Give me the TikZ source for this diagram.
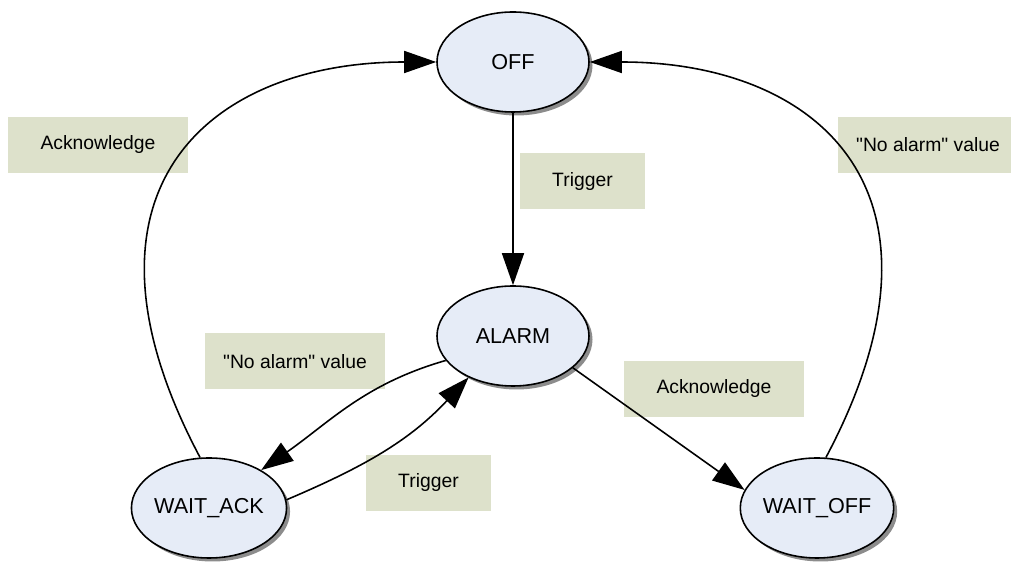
\documentclass[tikz,border=0pt]{standalone}
\usepackage{fontspec}
\setmainfont{Liberation Sans}
\usetikzlibrary{shapes.geometric,shadows,arrows.meta}
\definecolor{statefill}{RGB}{230,236,247}
\definecolor{labelfill}{RGB}{221,225,203}
\definecolor{shadowgray}{RGB}{140,140,140}
\tikzset{
  state/.style={ellipse,draw,line width=0.9pt,fill=statefill,
    minimum width=3.04cm,minimum height=2cm,inner sep=0pt,
    font=\fontsize{12.3}{14}\selectfont,
    drop shadow={shadow xshift=0.07cm,shadow yshift=-0.07cm,fill=shadowgray,opacity=1}},
  lbl/.style={rectangle,fill=labelfill,minimum height=1.12cm,inner sep=0pt,
    font=\fontsize{11}{13}\selectfont},
  trans/.style={line width=0.9pt,-{Triangle[length=6.4mm,width=4.4mm]}}
}
\begin{document}
\begin{tikzpicture}
        % 画面の範囲
        \clip (0,0) rectangle (20.22,11.26);
        % 状態
        \node[state] (OFF) at (10.26,10.02) {OFF};
        \node[state] (ALARM) at (10.26,4.54) {ALARM};
        \node[state] (WAITACK) at (4.18,1.10) {WAIT\_ACK};
        \node[state] (WAITOFF) at (16.34,1.10) {WAIT\_OFF};
        % 遷移のラベル
        \node[lbl,minimum width=3.6cm] (ackL) at (1.96,8.36) {Acknowledge};
        \node[lbl,minimum width=2.5cm] (trigT) at (11.65,7.63) {Trigger};
        \node[lbl,minimum width=3.6cm] (noalR) at (18.56,8.36) {\textquotedbl No alarm\textquotedbl{} value};
        \node[lbl,minimum width=3.6cm] (noalL) at (5.90,4.03) {\textquotedbl No alarm\textquotedbl{} value};
        \node[lbl,minimum width=3.6cm] (ackR) at (14.28,3.48) {Acknowledge};
        \node[lbl,minimum width=2.5cm] (trigB) at (8.57,1.60) {Trigger};
        % 遷移
        \draw[trans] (OFF) -- (ALARM);
        \draw[trans] (ALARM.-28) -- (WAITOFF.166);
        \draw[trans] (ALARM.200) to[out=196,in=35] (WAITACK.36);
        \draw[trans] (WAITACK.6) to[out=23,in=227] (ALARM.-137);
        % OFFへ戻る
        \draw[trans] (WAITACK.100) .. controls +(118:6) and +(-4.6,0) .. (OFF.west);
        \draw[trans] (WAITOFF.80) .. controls +(62:6) and +(4.6,0) .. (OFF.east);
      \end{tikzpicture}
\end{document}
